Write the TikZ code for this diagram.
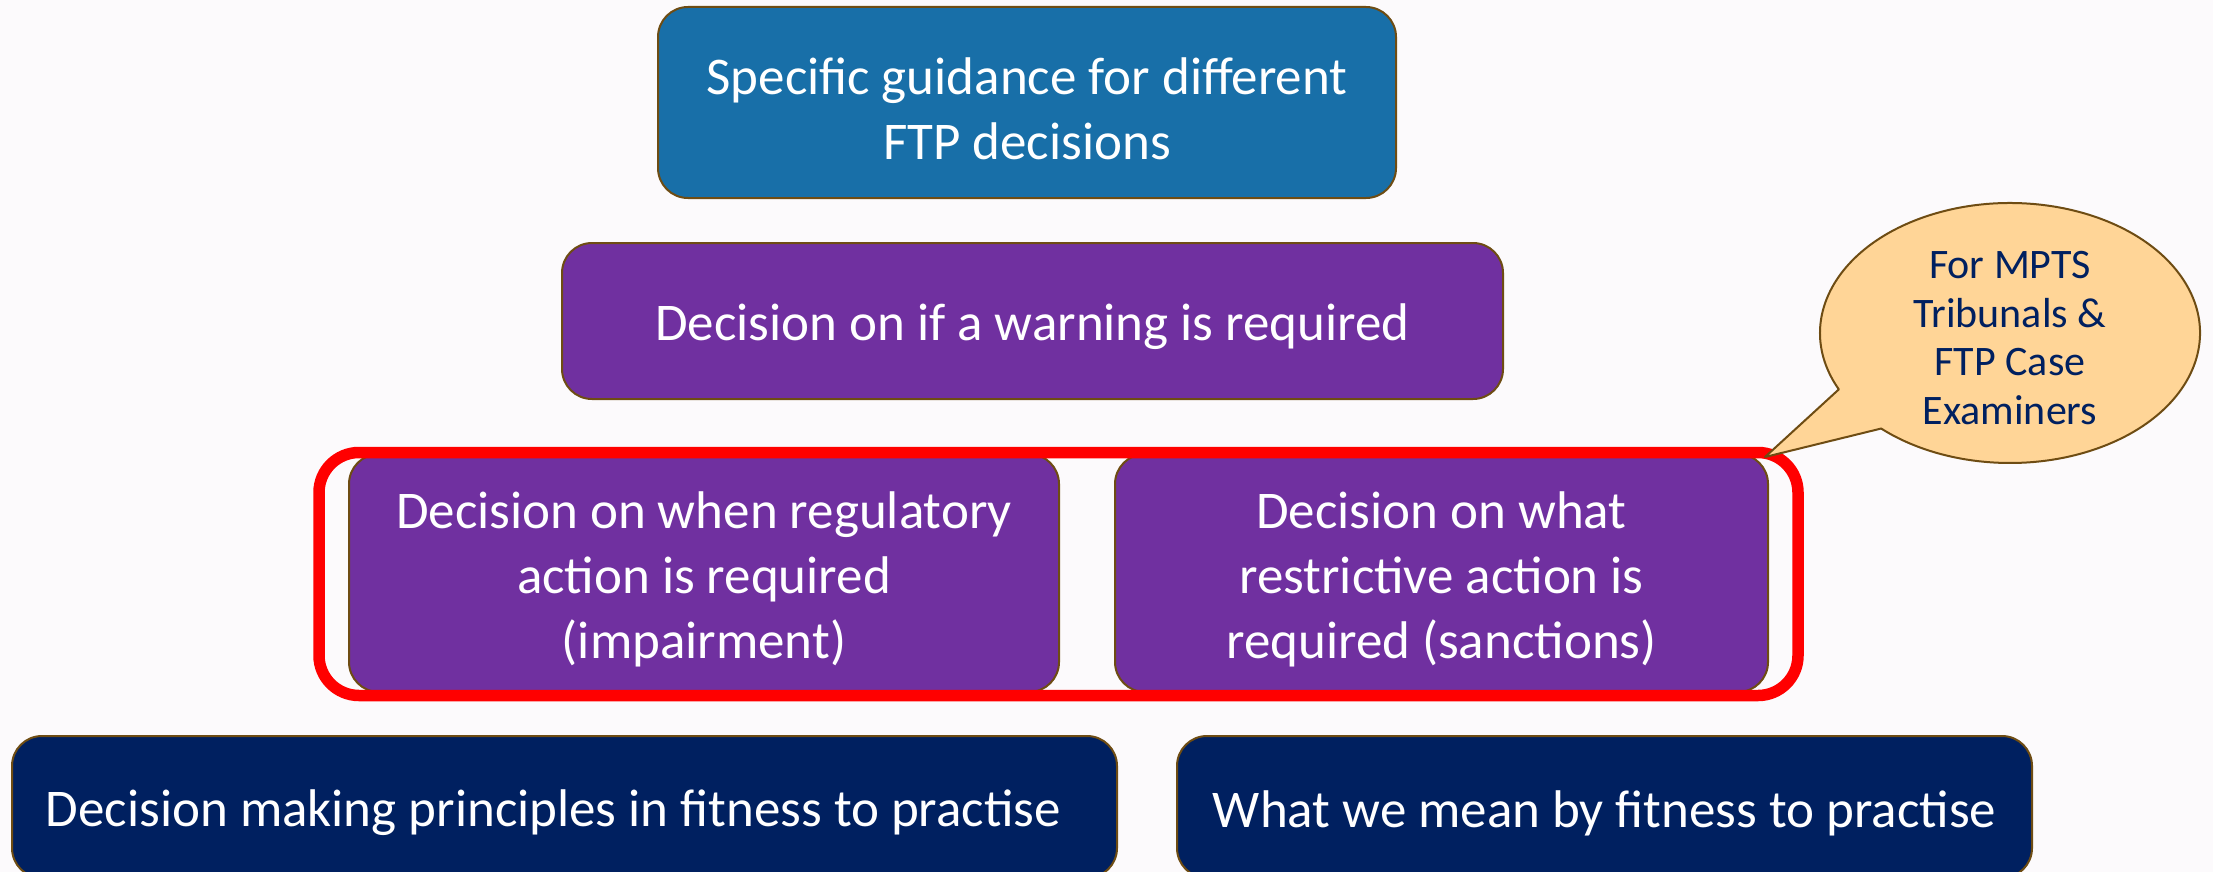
\documentclass[tikz,border=0pt]{standalone}
\usepackage{fontspec}
\setmainfont{Carlito}
\definecolor{bg}{HTML}{FCFAFC}
\definecolor{edge}{HTML}{6E4C13}
\definecolor{topblue}{HTML}{186FA8}
\definecolor{purp}{HTML}{7030A0}
\definecolor{navy}{HTML}{002060}
\definecolor{peach}{HTML}{FFD597}
\begin{document}
\begin{tikzpicture}[x=1pt,y=-1pt,
  box/.style={draw=edge, line width=2pt, rounded corners=30pt,
    inner sep=0pt, rectangle},
  boxtext/.style={text=white, align=center, inner sep=0pt, yshift=-6pt,
    font=\fontsize{53}{65}\selectfont},
  callouttext/.style={text=navy, align=center, inner sep=0pt,
    font=\fontsize{42}{48.5}\selectfont}]
% page
\fill[bg] (0,0) rectangle (2213,872);
\useasboundingbox (0,0) rectangle (2213,872);
\clip (0,0) rectangle (2213,872);

% top of the pyramid
\node[box, fill=topblue, minimum width=738pt, minimum height=191pt]
  (guidance) at (1027,102.5) {};
\node[boxtext] (guidanceText) at (guidance)
  {Specific guidance for different\\FTP decisions};

% warning decision
\node[box, fill=purp, minimum width=941pt, minimum height=156pt]
  (warning) at (1032.5,321) {};
\node[boxtext] (warningText) at (warning)
  {Decision on if a warning is required};

% impairment and sanctions decisions
\node[box, fill=purp, minimum width=710pt, minimum height=238pt]
  (impair) at (704,573) {};
\node[boxtext] (impairText) at (impair)
  {Decision on when regulatory\\action is required\\(impairment)};
\node[box, fill=purp, minimum width=653pt, minimum height=238pt]
  (sanction) at (1441.5,573) {};
\node[boxtext] (sanctionText) at (sanction)
  {Decision on what\\restrictive action is\\required (sanctions)};

% base of the pyramid
\node[box, fill=navy, minimum width=1105pt, minimum height=142pt]
  (principles) at (564.5,807) {};
\node[boxtext, xshift=-11pt] (principlesText) at (principles)
  {Decision making principles in fitness to practise};
\node[box, fill=navy, minimum width=855pt, minimum height=142pt]
  (meaning) at (1604.5,807) {};
\node[boxtext] (meaningText) at (meaning)
  {What we mean by fitness to practise};

% red frame round the two decisions
\node[draw=red, line width=11.5pt, rounded corners=40pt, rectangle,
  minimum width=1479pt, minimum height=243pt, inner sep=0pt]
  (frame) at (1058.5,574) {};

% speech bubble
\coordinate (cc) at (2010,333);
\coordinate (tip) at (1765,457);
\draw[edge, fill=peach, line width=2pt, line join=round]
  (cc) ++(154.3:190 and 130)
  arc[start angle=154.3, end angle=492.7, x radius=190, y radius=130]
  -- (tip) -- cycle;
\node[callouttext] (audience) at (2010,338)
  {For MPTS\\Tribunals \&\\FTP Case\\Examiners};
\end{tikzpicture}
\end{document}
